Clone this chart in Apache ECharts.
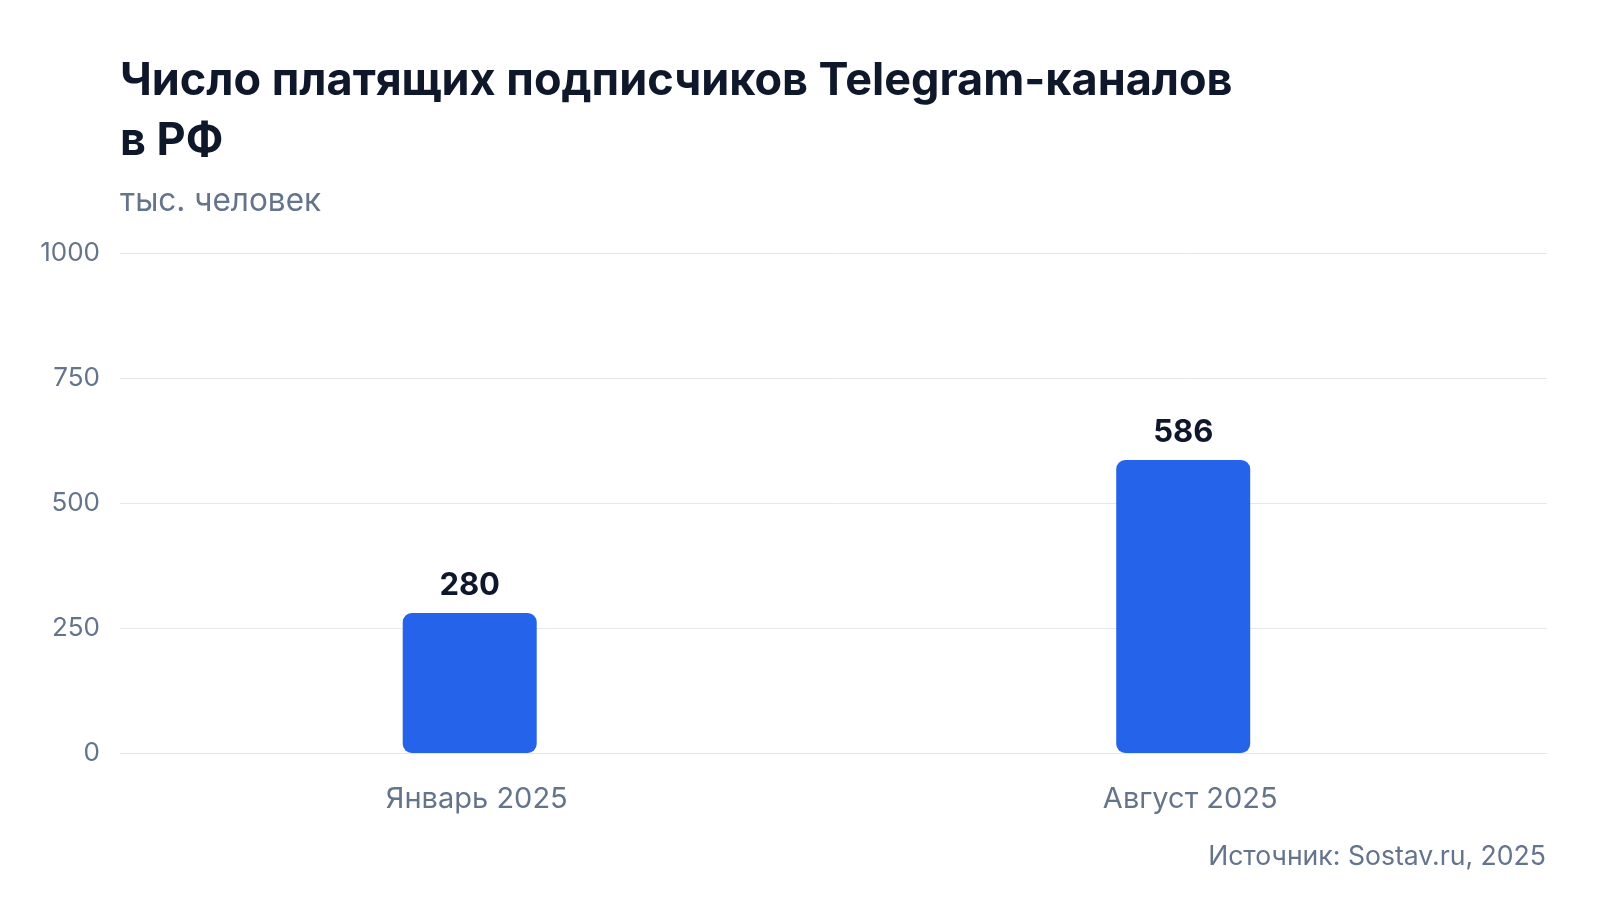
<!DOCTYPE html>
<html>
<head>
<meta charset="utf-8">
<title>Число платящих подписчиков Telegram-каналов в РФ</title>
<script src="https://cdn.jsdelivr.net/npm/echarts@6/dist/echarts.min.js"></script>
<style>
    html, body { margin: 0; padding: 0; background: #ffffff; }
    #chart { width: 1600px; height: 900px; }
</style>
</head>
<body>
<div id="chart"></div>
<script type="text/javascript">
    // данные
    var categories = ['Январь 2025', 'Август 2025'];
    var subscribers = [280, 586];
    var yTicks = [0, 250, 500, 750, 1000];

    var fontMain = 'Inter, "Noto Sans", sans-serif';
    var barW = 134;

    var chart = echarts.init(document.getElementById('chart'));

    var option = {
        backgroundColor: '#ffffff',
        title: [
            {
                text: 'Число платящих подписчиков Telegram-каналов\nв РФ',
                left: 120,
                top: 51,
                padding: 0,
                textStyle: {
                    fontFamily: fontMain,
                    fontSize: 45,
                    fontWeight: 'bold',
                    color: '#0f172a',
                    lineHeight: 60
                }
            },
            {
                text: 'тыс. человек',
                left: 120,
                top: 186,
                padding: 0,
                textStyle: {
                    fontFamily: fontMain,
                    fontSize: 31.5,
                    fontWeight: 'normal',
                    color: '#64748b'
                }
            },
            {
                text: 'Источник: Sostav.ru, 2025',
                right: 54,
                top: 843,
                padding: 0,
                textStyle: {
                    fontFamily: fontMain,
                    fontSize: 26.6,
                    fontWeight: 'normal',
                    color: '#64748b'
                }
            }
        ],
        grid: {
            left: 120,
            right: 53,
            top: 253,
            bottom: 147,
            containLabel: false
        },
        xAxis: {
            type: 'category',
            data: categories,
            axisLine: { show: true, lineStyle: { color: '#e2e8f0', width: 1 } },
            axisTick: { show: false },
            axisLabel: {
                margin: 32,
                fontFamily: fontMain,
                fontSize: 29,
                color: '#64748b'
            }
        },
        yAxis: {
            type: 'value',
            min: yTicks[0],
            max: yTicks[yTicks.length - 1],
            interval: 250,
            axisLine: { show: false },
            axisTick: { show: false },
            splitLine: { lineStyle: { color: '#e5e7eb', width: 1 } },
            axisLabel: {
                margin: 20,
                fontFamily: fontMain,
                fontSize: 26,
                color: '#64748b',
                formatter: function (v) { return String(v); }
            }
        },
        series: [
            {
                name: 'Подписчики',
                type: 'bar',
                data: subscribers,
                barWidth: barW,
                barGap: '-89.5%',
                itemStyle: {
                    color: '#2563eb',
                    borderRadius: 9
                },
                label: {
                    show: true,
                    position: 'top',
                    distance: 12,
                    fontFamily: fontMain,
                    fontSize: 31,
                    fontWeight: 'bold',
                    color: '#0f172a'
                }
            },
            {
                // пустая серия: только сдвигает столбцы чуть левее центра категории
                name: '',
                type: 'bar',
                data: [null, null],
                barWidth: barW,
                silent: true
            }
        ]
    };
    chart.setOption(option);
</script>
</body>
</html>
